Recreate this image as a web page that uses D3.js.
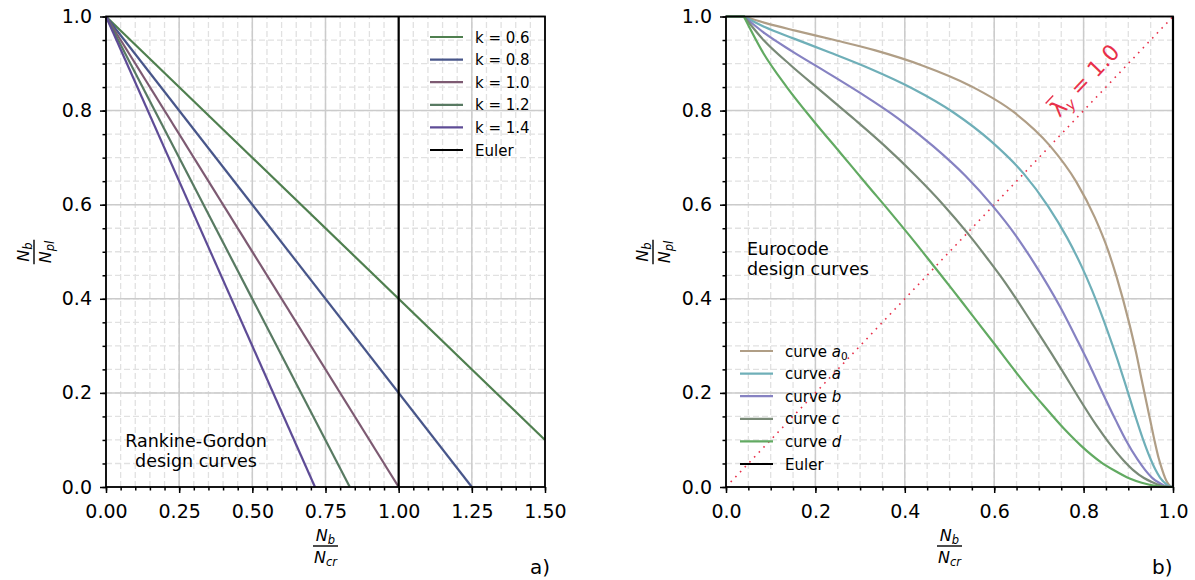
<!DOCTYPE html>
<html lang="en">
<head>
<meta charset="UTF-8">
<title>Buckling design curves</title>
<script src="https://d3js.org/d3.v7.min.js"></script>
<style>
  body { margin: 0; background: #fff; }
  svg { display: block; font-family: "DejaVu Sans", sans-serif; }
</style>
</head>
<body>
<svg id="fig" width="1195" height="580"></svg>
<script>
    // ---- panel a) Rankine-Gordon straight lines ----
    const rgLabels = ["k = 0.6", "k = 0.8", "k = 1.0", "k = 1.2", "k = 1.4"];
    const rgEndX = [1.5, 1.25, 1.0, 0.833, 0.714];
    const rgEndY = [0.1, 0, 0, 0, 0];
    const rgColors = ["#4f7f4f", "#48568a", "#7d5a72", "#587a62", "#5e4c96"];
    const eulerA = [[1, 0], [1, 1]];

    const xTicksA = [0, 0.25, 0.5, 0.75, 1.0, 1.25, 1.5];
    const yTicks = [0, 0.2, 0.4, 0.6, 0.8, 1.0];

    // ---- panel b) Eurocode buckling curves, [N_b/N_cr, N_b/N_pl] ----
    const curveA0 = [[0,1],[0.04,1],[0.089,0.986],[0.155,0.970],[0.238,0.951],[0.334,0.928],[0.439,0.896],[0.546,0.853],[0.645,0.796],[0.725,0.725],[0.784,0.648],[0.825,0.573],[0.854,0.505],[0.874,0.446],[0.901,0.352],[0.918,0.283],[0.929,0.232],[0.947,0.151],[0.957,0.106],[0.968,0.061],[0.975,0.039],[0.982,0.020],[0.987,0.010],[0.994,0.002],[0.997,0.0004],[1,0]];
    const curveA = [[0,1],[0.04,1],[0.088,0.977],[0.152,0.953],[0.231,0.924],[0.320,0.890],[0.415,0.848],[0.509,0.796],[0.594,0.734],[0.666,0.666],[0.721,0.596],[0.763,0.530],[0.795,0.470],[0.819,0.418],[0.853,0.333],[0.876,0.270],[0.892,0.223],[0.917,0.147],[0.932,0.104],[0.950,0.059],[0.960,0.038],[0.971,0.020],[0.980,0.010],[0.990,0.002],[0.996,0.0004],[1,0]];
    const curveB = [[0,1],[0.04,1],[0.087,0.964],[0.148,0.926],[0.221,0.884],[0.301,0.837],[0.384,0.784],[0.464,0.724],[0.536,0.661],[0.597,0.597],[0.648,0.535],[0.688,0.478],[0.748,0.382],[0.788,0.308],[0.817,0.252],[0.838,0.209],[0.873,0.140],[0.895,0.099],[0.921,0.058],[0.937,0.037],[0.954,0.019],[0.967,0.010],[0.983,0.002],[0.993,0.0004],[1,0]];
    const curveC = [[0,1],[0.04,1],[0.085,0.949],[0.144,0.897],[0.211,0.843],[0.283,0.785],[0.355,0.725],[0.424,0.662],[0.486,0.600],[0.540,0.540],[0.586,0.484],[0.625,0.434],[0.684,0.349],[0.728,0.284],[0.760,0.235],[0.785,0.196],[0.828,0.132],[0.856,0.095],[0.890,0.056],[0.911,0.036],[0.935,0.019],[0.954,0.010],[0.976,0.002],[0.990,0.0004],[1,0]];
    const curveD = [[0,1],[0.04,1],[0.083,0.923],[0.136,0.850],[0.195,0.779],[0.256,0.710],[0.315,0.643],[0.371,0.580],[0.422,0.521],[0.467,0.467],[0.507,0.419],[0.542,0.376],[0.599,0.306],[0.643,0.251],[0.678,0.209],[0.707,0.177],[0.759,0.121],[0.794,0.088],[0.840,0.052],[0.869,0.035],[0.903,0.018],[0.930,0.009],[0.964,0.002],[0.985,0.0004],[1,0]];
    const ecCurves = [curveA0, curveA, curveB, curveC, curveD];
    const ecLetters = ["a", "a", "b", "c", "d"];
    const ecSubs = ["0", "", "", "", ""];
    const ecColors = ["#b09e86", "#6fafb8", "#8682c2", "#798a77", "#62aa62"];
    const eulerB = [[1, 0], [1, 1]];
    const slenderLine = [[0, 0], [1, 1]];

    const xTicksB = [0, 0.2, 0.4, 0.6, 0.8, 1.0];

    const svg = d3.select("#fig");
    const fontSize = 19;

    function drawFrame(g, x, y, xMajor, yMajor, xFmt) {
        const [x0, x1] = x.range();
        const [y0, y1] = y.range();
        const xMinor = d3.range(x.domain()[0], x.domain()[1] + 1e-9, 0.05);
        const yMinor = d3.range(0, 1 + 1e-9, 0.05);

        // minor grid (dashed)
        const minor = g.append("g")
            .attr("stroke", "#e1e1e1")
            .attr("stroke-width", 1.3)
            .attr("stroke-dasharray", "6,3");
        minor.selectAll("line.vx").data(xMinor).join("line")
            .attr("x1", d => x(d)).attr("x2", d => x(d)).attr("y1", y0).attr("y2", y1);
        minor.selectAll("line.hy").data(yMinor).join("line")
            .attr("x1", x0).attr("x2", x1).attr("y1", d => y(d)).attr("y2", d => y(d));

        // major grid
        const major = g.append("g")
            .attr("stroke", "#cbcbcb")
            .attr("stroke-width", 1.5);
        major.selectAll("line.vx").data(xMajor).join("line")
            .attr("x1", d => x(d)).attr("x2", d => x(d)).attr("y1", y0).attr("y2", y1);
        major.selectAll("line.hy").data(yMajor).join("line")
            .attr("x1", x0).attr("x2", x1).attr("y1", d => y(d)).attr("y2", d => y(d));

        // ticks and labels
        const styleAxis = a => {
            a.select(".domain").remove();
            a.attr("font-size", fontSize).attr("font-family", "DejaVu Sans, sans-serif");
            a.selectAll("line").attr("stroke", "#000").attr("stroke-width", 1.5);
            a.selectAll("text").attr("fill", "#000");
        };
        g.append("g").attr("transform", `translate(0,${y0})`)
            .call(d3.axisBottom(x).tickValues(xMinor).tickSize(3.5).tickFormat(""))
            .call(styleAxis);
        g.append("g").attr("transform", `translate(${x0},0)`)
            .call(d3.axisLeft(y).tickValues(yMinor).tickSize(3.5).tickFormat(""))
            .call(styleAxis);
        g.append("g").attr("transform", `translate(0,${y0})`)
            .call(d3.axisBottom(x).tickValues(xMajor).tickSize(6).tickPadding(12).tickFormat(xFmt))
            .call(styleAxis);
        g.append("g").attr("transform", `translate(${x0},0)`)
            .call(d3.axisLeft(y).tickValues(yMajor).tickSize(6).tickPadding(8).tickFormat(d3.format(".1f")))
            .call(styleAxis);
    }

    function drawSpines(g, x, y) {
        const [x0, x1] = x.range();
        const [y0, y1] = y.range();
        g.append("rect")
            .attr("x", x0).attr("y", y1)
            .attr("width", x1 - x0).attr("height", y0 - y1)
            .attr("fill", "none")
            .attr("stroke", "#000")
            .attr("stroke-width", 1.8);
    }

    // N_sub over N_sub, bar at local y = 0
    function fraction(g, numSub, denSub) {
        const parts = [[numSub, -5], [denSub, 17]];
        let w = 0;
        parts.forEach(([sub, yy]) => {
            const t = g.append("text")
                .attr("y", yy)
                .attr("text-anchor", "middle")
                .attr("font-size", 16)
                .attr("font-style", "italic");
            t.append("tspan").text("N");
            t.append("tspan").attr("font-size", 11.5).attr("dy", 3).text(sub);
            w = Math.max(w, t.node().getComputedTextLength());
        });
        g.append("line")
            .attr("x1", -w / 2 - 1).attr("x2", w / 2 + 1)
            .attr("y1", 0).attr("y2", 0)
            .attr("stroke", "#000")
            .attr("stroke-width", 1.4);
    }

    function legendEntry(g, x, y, color, label) {
        g.append("line")
            .attr("x1", x).attr("x2", x + 33)
            .attr("y1", y).attr("y2", y)
            .attr("stroke", color)
            .attr("stroke-width", 2.2);
        const t = g.append("text")
            .attr("x", x + 45).attr("y", y + 5.5)
            .attr("font-size", 15);
        label(t);
    }

    // ================= panel a =================
    const xA = d3.scaleLinear().domain([0, 1.5]).range([106, 545]);
    const yA = d3.scaleLinear().domain([0, 1]).range([487, 16.5]);
    const gA = svg.append("g");
    drawFrame(gA, xA, yA, xTicksA, yTicks, d3.format(".2f"));

    const lineA = d3.line().x(d => xA(d[0])).y(d => yA(d[1]));
    rgEndX.forEach((ex, i) => {
        gA.append("path")
            .datum([[0, 1], [ex, rgEndY[i]]])
            .attr("fill", "none")
            .attr("stroke", rgColors[i])
            .attr("stroke-width", 2.2)
            .attr("d", lineA);
    });
    gA.append("path")
        .datum(eulerA)
        .attr("fill", "none")
        .attr("stroke", "#000")
        .attr("stroke-width", 2.2)
        .attr("d", lineA);
    drawSpines(gA, xA, yA);

    const legA = gA.append("g");
    rgLabels.forEach((lab, i) => {
        legendEntry(legA, 430, 37 + i * 22.6, rgColors[i], t => t.text(lab));
    });
    legendEntry(legA, 430, 37 + 5 * 22.6, "#000", t => t.text("Euler"));

    gA.append("text")
        .attr("text-anchor", "middle")
        .attr("font-size", 17.5)
        .selectAll("tspan")
        .data(["Rankine-Gordon", "design curves"])
        .join("tspan")
        .attr("x", 196)
        .attr("y", (d, i) => 447 + i * 20)
        .text(d => d);

    fraction(gA.append("g").attr("transform", "translate(325.5,546)"), "b", "cr");
    fraction(gA.append("g").attr("transform", "translate(34,252) rotate(-90)"), "b", "pl");

    gA.append("text")
        .attr("x", 530).attr("y", 574)
        .attr("font-size", 20)
        .text("a)");

    // ================= panel b =================
    const xB = d3.scaleLinear().domain([0, 1]).range([726, 1173]);
    const yB = d3.scaleLinear().domain([0, 1]).range([487, 16.5]);
    const gB = svg.append("g");
    drawFrame(gB, xB, yB, xTicksB, yTicks, d3.format(".1f"));

    const lineB = d3.line().x(d => xB(d[0])).y(d => yB(d[1]));
    const smoothB = d3.line().x(d => xB(d[0])).y(d => yB(d[1])).curve(d3.curveMonotoneX);

    gB.append("path")
        .datum(slenderLine)
        .attr("fill", "none")
        .attr("stroke", "#e8304a")
        .attr("stroke-width", 1.6)
        .attr("stroke-dasharray", "1.6,5.2")
        .attr("d", lineB);

    // plateau up to 0.04 is straight, the rest is smooth (kink at the plateau end)
    ecCurves.forEach((c, i) => {
        const d = lineB(c.slice(0, 2)) + "L" + smoothB(c.slice(1)).slice(1);
        gB.append("path")
            .attr("fill", "none")
            .attr("stroke", ecColors[i])
            .attr("stroke-width", 2.2)
            .attr("d", d);
    });
    gB.append("path")
        .datum(eulerB)
        .attr("fill", "none")
        .attr("stroke", "#000")
        .attr("stroke-width", 2.2)
        .attr("d", lineB);
    drawSpines(gB, xB, yB);

    // slenderness label along the dotted line
    const ang = Math.atan2(yB(0) - yB(1), xB(1) - xB(0)) * 180 / Math.PI;
    const lamG = gB.append("g")
        .attr("transform", `translate(${xB(0.835)},${yB(0.835)}) rotate(${-ang})`);
    const lam = lamG.append("text")
        .attr("y", -12.5)
        .attr("text-anchor", "middle")
        .attr("font-size", 22)
        .attr("fill", "#e8304a");
    lam.append("tspan").text("λ");
    lam.append("tspan").attr("font-style", "italic").attr("font-size", 15).attr("dy", 4).text("y");
    lam.append("tspan").attr("dy", -4).text(" = 1.0");
    const lamStart = lam.node().getStartPositionOfChar(0);
    const lamEnd = lam.node().getEndPositionOfChar(0);
    lamG.append("line")
        .attr("x1", lamStart.x + 1).attr("x2", lamEnd.x - 1)
        .attr("y1", lamStart.y - 20).attr("y2", lamStart.y - 20)
        .attr("stroke", "#e8304a")
        .attr("stroke-width", 1.4);

    const legB = gB.append("g");
    ecCurves.forEach((c, i) => {
        legendEntry(legB, 740, 351 + i * 22.6, ecColors[i], t => {
            t.append("tspan").text("curve ");
            t.append("tspan").attr("font-style", "italic").text(ecLetters[i]);
            if (ecSubs[i]) t.append("tspan").attr("font-size", 10.5).attr("dy", 3).text(ecSubs[i]);
        });
    });
    legendEntry(legB, 740, 351 + 5 * 22.6, "#000", t => t.text("Euler"));

    gB.append("text")
        .attr("font-size", 17.5)
        .selectAll("tspan")
        .data(["Eurocode", "design curves"])
        .join("tspan")
        .attr("x", 747)
        .attr("y", (d, i) => 255 + i * 19.5)
        .text(d => d);

    fraction(gB.append("g").attr("transform", "translate(949.5,546)"), "b", "cr");
    fraction(gB.append("g").attr("transform", "translate(653,252) rotate(-90)"), "b", "pl");

    gB.append("text")
        .attr("x", 1152).attr("y", 574)
        .attr("font-size", 20)
        .text("b)");
</script>
</body>
</html>
